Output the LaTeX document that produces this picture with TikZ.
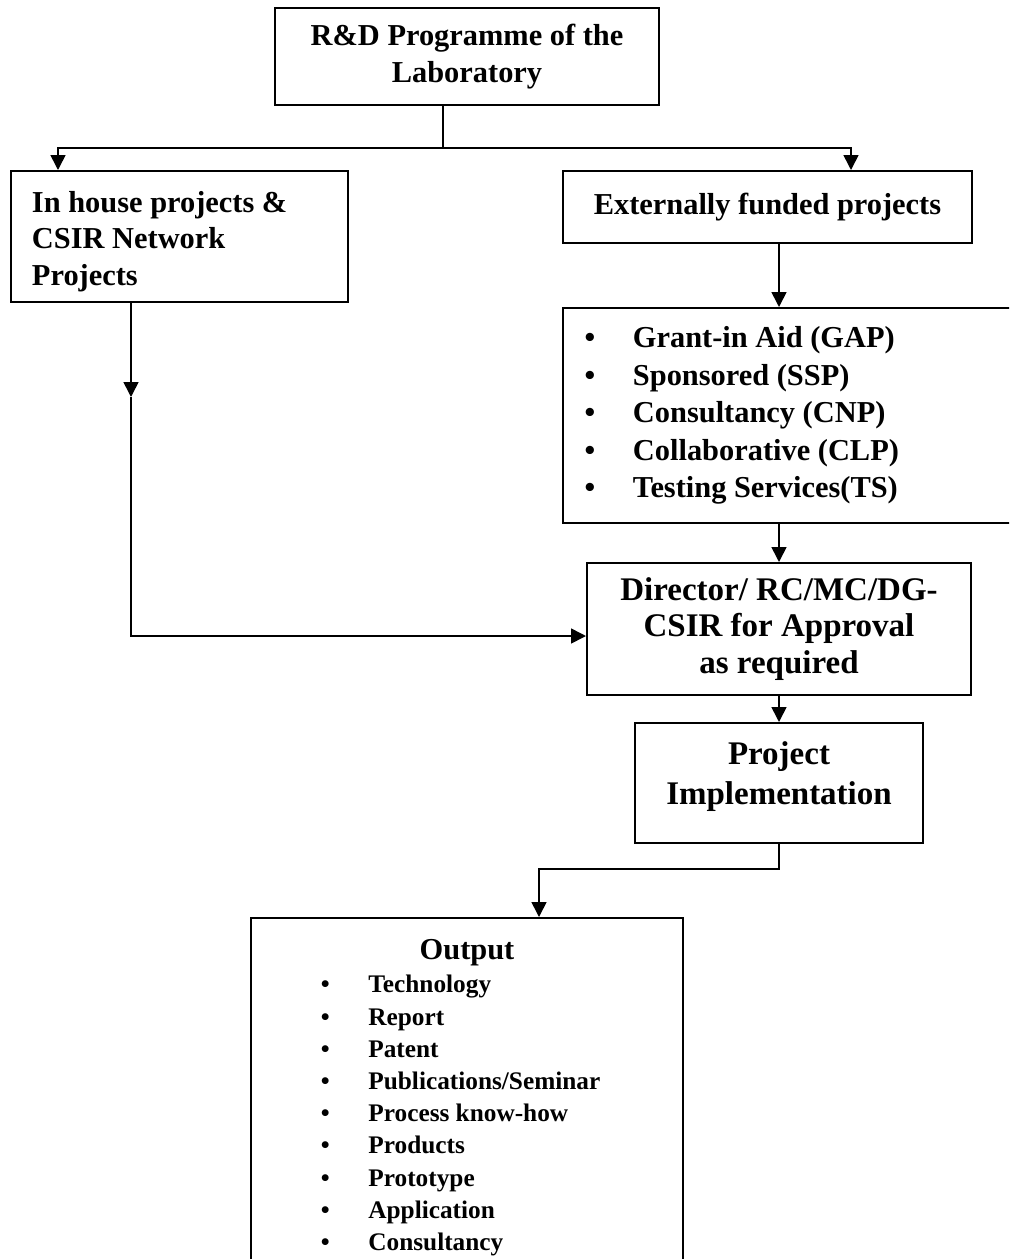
\documentclass[tikz,border=0pt]{standalone}
\usepackage{fontspec}
\setmainfont{Liberation Serif}
\usetikzlibrary{arrows.meta}

\newcommand\itm{\makebox[0pt]{\textbullet}\hspace{21.5pt}}

\tikzset{
  box/.style={draw, line width=1pt, inner sep=0pt},
  conn/.style={line width=0.8pt},
  arr/.style={conn, -{Triangle[length=7.5pt,width=7.5pt]}},
  txt/.style 2 args={font=\fontsize{#1}{#2}\selectfont\bfseries},
}

\begin{document}
\begin{tikzpicture}[x=0.5pt,y=-0.5pt]
\useasboundingbox (0,0) rectangle (1009,1259);
\clip (0,0) rectangle (1009,1259);

% boxes
\node[box, txt={15.2}{18.5}, align=center, minimum width=192pt, minimum height=48.5pt] (lab) at (467,56.5) {R\&D Programme of the\\Laboratory};
\node[box, txt={15.2}{18.25}, align=flush left, text width=147.5pt, inner xsep=10.5pt, minimum height=65.5pt] (inhouse) at (179.5,236.5) {\rule{0pt}{15.5pt}In house projects \&\\CSIR Network\\Projects};
\node[box, txt={15.2}{17.5}, minimum width=204.5pt, minimum height=36pt] (ext) at (767.5,207) {Externally funded projects};
\node[box, txt={15.2}{18.75}, align=flush left, text width=211.5pt, inner xsep=13.5pt, minimum height=107.5pt] (grants) at (801.5,415.5) {\itm Grant-in Aid (GAP)\\\itm Sponsored (SSP)\\\itm Consultancy (CNP)\\\itm Collaborative (CLP)\\\itm Testing Services(TS)};
\node[box, txt={16.5}{18.25}, align=center, minimum width=192pt, minimum height=66pt] (dir) at (779,629) {Director/ RC/MC/DG-\\CSIR for Approval\\as required};
\node[box, txt={16.5}{20}, align=center, minimum width=144pt, minimum height=60pt] (impl) at (779,783) {Project\\Implementation\rule[-9.6pt]{0pt}{9.6pt}};
\node[box, minimum width=216pt, minimum height=179pt, anchor=north] (out) at (467,917) {};
\node[txt={15.2}{18.5}, anchor=base, inner sep=0pt] (outhead) at (467,959) {Output};
\node[txt={12.65}{16.1}, align=left, anchor=north west, inner sep=0pt] (outlist) at (325,975) {\itm Technology\\\itm Report\\\itm Patent\\\itm Publications/Seminar\\\itm Process know-how\\\itm Products\\\itm Prototype\\\itm Application\\\itm Consultancy};

% connectors
\coordinate (split) at (443,148);
\coordinate (midarr) at (131,397);
\draw[conn] (lab.south -| split) -- (split);
\draw[arr] (split) -| ([xshift=24pt]inhouse.north west);
\draw[arr] (split) -| ([xshift=41.75pt]ext.north);
\draw[arr] (ext.south -| dir.north) -- (grants.north -| dir.north);
\draw[arr] (grants.south -| dir.north) -- (dir.north);
\draw[arr] (inhouse.south -| midarr) -- (midarr);
\draw[arr] (midarr) |- ([yshift=-3.5pt]dir.west);
\draw[arr] (dir.south) -- (impl.north);
\draw[arr] (impl.south) -- ++(0,-12.5pt) -| ([xshift=36pt]out.north);

\end{tikzpicture}
\end{document}
